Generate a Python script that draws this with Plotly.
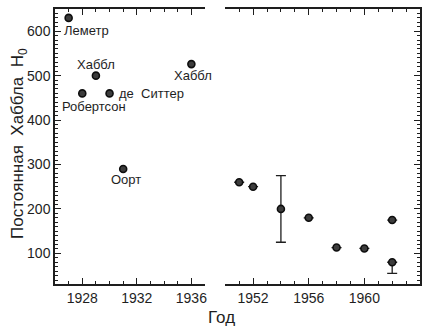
import plotly.graph_objects as go

# Early determinations (1927-1936)
early_years = [1927, 1928, 1929, 1930, 1931, 1936]
early_h0 = [630, 460, 500, 460, 290, 526]
early_names = ["Леметр", "Робертсон", "Хаббл", "де  Ситтер", "Оорт", "Хаббл"]

# Later determinations (1951-1962)
late_years = [1951, 1952, 1954, 1956, 1958, 1960, 1962, 1962]
late_h0 = [260, 250, 200, 180, 113, 111, 175, 80]
late_err_plus = [0, 0, 75, 0, 0, 0, 0, 0]
late_err_minus = [0, 0, 75, 0, 0, 0, 0, 25]

x_tick_vals_left = [1928, 1932, 1936]
x_tick_vals_right = [1952, 1956, 1960]
y_tick_vals = [100, 200, 300, 400, 500, 600]

# label placement relative to each early point (pixels)
label_shift = [(18, -13), (12, -13), (0, 11), (42, 0), (3, -11), (2, -11)]

INK = "#1e1e1e"
tick_font = dict(family="Liberation Sans Narrow, Liberation Sans, Arial", size=14, color=INK)
label_font = dict(family="Liberation Sans, Arial", size=13, color=INK)

marker = dict(size=7, color="#3c3c3c", line=dict(width=1.6, color="#0e0e0e"))

fig = go.Figure()
fig.add_trace(go.Scatter(x=early_years, y=early_h0, mode="markers",
                         marker=marker, xaxis="x", yaxis="y", showlegend=False))
fig.add_trace(go.Scatter(
    x=late_years, y=late_h0, mode="markers", marker=marker,
    error_y=dict(type="data", symmetric=False, array=late_err_plus,
                 arrayminus=late_err_minus, color=INK, thickness=1.3, width=5),
    xaxis="x2", yaxis="y2", showlegend=False))

annotations = []
for yr, val, name, (dx, dy) in zip(early_years, early_h0, early_names, label_shift):
    annotations.append(dict(x=yr, y=val, xref="x", yref="y",
                            text=name.replace(" ", "&nbsp;"),
                            showarrow=False, xshift=dx, yshift=dy,
                            font=label_font))

annotations.append(dict(text="Постоянная&nbsp;&nbsp;Хаббла&nbsp;&nbsp;H<sub>0</sub>",
                        textangle=-90, x=-0.098, y=0.51, xref="paper", yref="paper",
                        showarrow=False, xanchor="center", yanchor="middle",
                        font=dict(family="Liberation Sans, Arial", size=17, color=INK)))
annotations.append(dict(text="Год", x=0.456, y=-0.123, xref="paper", yref="paper",
                        showarrow=False, xanchor="center", yanchor="middle",
                        font=dict(family="Liberation Sans, Arial", size=17, color=INK)))

axis_common = dict(showline=True, linecolor=INK, linewidth=1.5, ticks="inside",
                   tickcolor=INK, tickwidth=1.3, ticklen=6, showgrid=False,
                   zeroline=False, tickfont=tick_font)
x_minor = dict(ticks="inside", dtick=1, ticklen=3, tickcolor=INK, tickwidth=1, showgrid=False)
y_minor = dict(ticks="inside", dtick=10, ticklen=3, tickcolor=INK, tickwidth=1, showgrid=False)

fig.update_layout(
    width=430, height=326,
    margin=dict(l=55, r=10, t=7, b=42),
    paper_bgcolor="white", plot_bgcolor="white",
    xaxis=dict(domain=[0, 0.411], range=[1926, 1937], tickvals=x_tick_vals_left,
               mirror="ticks", minor=x_minor, **axis_common),
    xaxis2=dict(domain=[0.4665, 1.0], range=[1950, 1964], tickvals=x_tick_vals_right,
                mirror="ticks", minor=x_minor, **axis_common),
    yaxis=dict(range=[31, 650], tickvals=y_tick_vals, minor=y_minor,
               anchor="x", **axis_common),
    yaxis2=dict(range=[31, 650], tickvals=y_tick_vals, minor=y_minor,
                anchor="x2", side="right", showticklabels=False, **axis_common),
    annotations=annotations,
)

fig.write_html("out.html")
